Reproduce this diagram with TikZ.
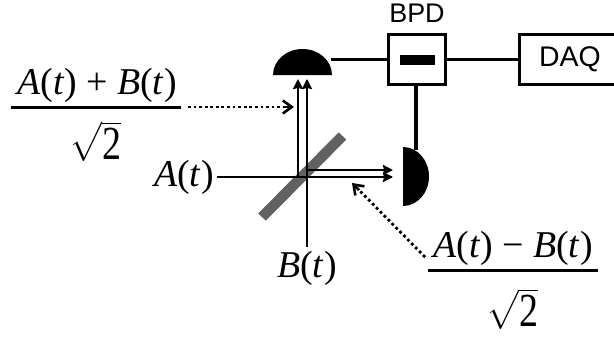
\documentclass[tikz,border=0pt]{standalone}
\usepackage{amsmath}
\usepackage{graphicx}
\usepackage{fontspec}
\setmainfont{Liberation Serif}
\setsansfont{Liberation Sans}
\usetikzlibrary{arrows.meta}
\newcommand{\ee}[1]{\fontsize{#1}{#1}\selectfont}
\newcommand{\ip}[1]{\textit{#1}(\textit{t})}
\newcommand{\rt}{\scalebox{1.32}[1.32]{$\sqrt{\text{\scalebox{.76}[.95]{\upshape 2}}}$}}
\begin{document}
\begin{tikzpicture}[x=1bp,y=-1bp,
  wire/.style={line width=3.2pt,draw=black},
  beam/.style={line width=2.4pt,draw=black},
  ray/.style={line width=2.4pt,draw=black,-{Stealth[length=10pt,width=10pt,inset=1pt]}},
  dots/.style={line width=2.8pt,dash pattern=on 2.8pt off 2.8pt},
  barb/.style={line width=2.6pt,-{Straight Barb[length=9pt,width=13pt,line width=2.6pt]}},
  boxed/.style={draw=black,line width=3pt,fill=white,inner sep=0pt},
  lab/.style={font=\ee{38},inner sep=0pt},
  sans/.style={font=\sffamily\ee{27},inner sep=0pt}]
\useasboundingbox (0,0) rectangle (614,337);
\clip (0,0) rectangle (614,337);
\coordinate (det1) at (331,59.5);
\coordinate (det2) at (416,150);
% detectors
\fill (273,75) arc[start angle=180,end angle=360,x radius=29.5,y radius=26] -- cycle;
\fill (403,147) arc[start angle=-90,end angle=90,x radius=26,y radius=29.5] -- cycle;
% boxes and wires
\node[boxed,minimum width=58pt,minimum height=51pt] (bpd) at (417,59.5) {};
\node[boxed,minimum width=102pt,minimum height=50pt,font=\sffamily\ee{28.5}] (daq) at (570,59.5) {DAQ};
\draw[wire] (det1) -- (bpd.west);
\draw[wire] (bpd.east) -- (daq.west);
\draw[wire] (416,86) -- (det2);
\fill (400,55) rectangle (435,65);
\node[sans] (bpdl) at (417,13) {BPD};
% beam splitter
\draw[line width=10.5pt,draw=black!62] (262,217) -- (342.5,136);
% beams
\coordinate (ain) at (217,177);
\coordinate (bin) at (307,247);
\draw[beam] (ain) -- (392,177);
\draw[beam] (bin) -- (307,80);
\draw[ray] (298,177) -- (298,79);
\draw[ray] (307,177) -- (307,79);
\draw[ray] (307,170) -- (393,170);
\draw[ray] (307,177) -- (393,177);
% dotted
\coordinate (a1) at (188,107);
\coordinate (a2) at (294,107);
\coordinate (a3) at (285,107);
\draw[dots] (a1) -- (a3);
\draw[barb] (a3) -- (a2);
\coordinate (b1) at (425,257);
\coordinate (b2) at (352,183);
\coordinate (b3) at (359,190);
\draw[dots] (b1) -- (b3);
\draw[barb] (b3) -- (b2);
% labels
\node[lab,anchor=east] (at) at (214,177) {\ip{A}};
\node[lab] (bt) at (307,268) {\ip{B}};
\node[lab] (f1) at (97,85) {\ip{A} + \ip{B}};
\draw[line width=3pt] (11,107) -- (181,107);
\node[lab] (r1) at (95.5,141.5) {\rt};
\node[lab] (f2) at (513,248) {\ip{A} − \ip{B}};
\draw[line width=3pt] (428,270) -- (598,270);
\node[lab] (r2) at (512.5,309) {\rt};
\end{tikzpicture}
\end{document}
